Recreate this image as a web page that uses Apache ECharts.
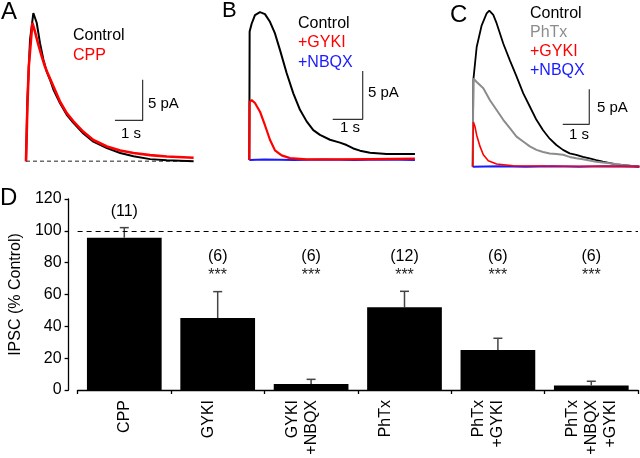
<!DOCTYPE html>
<html>
<head>
<meta charset="utf-8">
<script src="https://cdn.jsdelivr.net/npm/echarts@6/dist/echarts.min.js"></script>
<style>
html, body { margin: 0; padding: 0; background: #fff; }
#main { width: 640px; height: 458px; }
</style>
</head>
<body>
<div id="main"></div>
<script>
// traces, [time (s), current (pA)]
var traceA_control = [[0,0],[0.05,7.5],[0.145,14.9],[0.265,18.2],[0.386,17.0],[0.506,14.5],[0.627,12.5],[0.747,11.0],[0.867,10.0],[0.988,8.8],[1.229,7.1],[1.47,5.7],[1.71,4.7],[2.07,3.4],[2.43,2.4],[2.92,1.6],[3.40,1.0],[3.88,0.6],[4.48,0.25],[5.08,0.1],[6.05,0.0]];
var traceA_cpp = [[0,0],[0.05,6.7],[0.1,11.6],[0.23,17.0],[0.325,15.9],[0.446,14.3],[0.566,12.9],[0.687,11.6],[0.807,10.6],[0.988,9.2],[1.229,7.3],[1.47,5.9],[1.71,4.9],[2.07,3.6],[2.43,2.6],[2.92,1.8],[3.40,1.3],[3.88,1.0],[4.48,0.74],[5.08,0.57],[6.05,0.41]];

var traceB_control = [[0,0],[0.011,13.3],[0.078,14.1],[0.189,15.0],[0.356,15.3],[0.522,15.1],[0.689,14.3],[0.856,13.1],[1.022,11.4],[1.244,9.0],[1.467,6.9],[1.689,5.2],[1.911,4.0],[2.133,3.1],[2.356,2.6],[2.689,2.1],[3.022,1.8],[3.244,1.55],[3.467,1.2],[3.689,0.97],[4.022,0.76],[4.578,0.62],[5.522,0.62]];
var traceB_gyki = [[0,0],[0.011,6.0],[0.078,6.2],[0.189,5.9],[0.356,5.0],[0.522,3.6],[0.689,2.1],[0.856,1.0],[1.078,0.48],[1.356,0.2],[1.911,0.07],[2.91,0.07],[4.02,0.1],[5.52,0.14]];
var traceB_nbqx = [[0,0],[0.5,0.05],[1.5,0.0],[2.5,0.05],[3.5,0.0],[4.5,0.05],[5.52,0.0]];

var traceC_control = [[0,0],[0.025,12.4],[0.15,17.1],[0.338,20.2],[0.525,21.9],[0.625,22.3],[0.775,21.7],[0.9,20.5],[1.15,17.6],[1.4,15.2],[1.65,12.9],[1.9,10.5],[2.15,8.6],[2.4,6.7],[2.65,5.2],[2.9,4.0],[3.15,3.1],[3.4,2.4],[3.65,1.9],[3.9,1.7],[4.15,1.4],[4.4,1.2],[4.65,0.95],[4.9,0.71],[5.4,0.33],[6.275,0]];
var traceC_phtx = [[0,0],[0.025,12.6],[0.15,12.1],[0.4,11.2],[0.65,9.5],[0.9,8.1],[1.15,6.7],[1.4,5.5],[1.65,4.3],[1.9,3.6],[2.15,2.9],[2.4,2.4],[2.65,2.1],[2.9,1.9],[3.15,1.8],[3.4,1.7],[3.65,1.4],[3.9,1.2],[4.15,1.05],[4.65,0.7],[5.15,0.48],[5.65,0.24],[6.275,0]];
var traceC_gyki = [[0,0],[0.025,6.4],[0.088,5.7],[0.15,4.5],[0.275,2.9],[0.4,1.7],[0.588,0.86],[0.9,0.38],[1.525,0.14],[2.775,0.1],[6.275,0.05]];
var traceC_nbqx = [[0,0],[1,0.05],[2,0.0],[3,0.05],[4,0.0],[5,0.05],[6.275,0.0]];

// scale bar corners [time, pA]: 1 s horizontal, 5 pA vertical
var scaleA = [4.21, 5];
var scaleB = [3.78, 4.21];
var scaleC = [4.39, 6.06];

// panel D
var categories = ['CPP', 'GYKI', 'GYKI\n+NBQX', 'PhTx', 'PhTx\n+GYKI', 'PhTx\n+NBQX\n+GYKI'];
var ipscMean = [95.7, 45.2, 3.8, 52, 25.1, 2.9];
var ipscSem = [6.3, 16.6, 2.9, 10, 7.4, 2.6];
var nCells = [11, 6, 6, 12, 6, 6];
var signif = ['', '***', '***', '***', '***', '***'];
// the printed labels sit a little left of their ticks (in half-lines)
var labelPad = [0, 1, 1, 2, 1, 0];

var FONT = '"Liberation Sans", Arial, sans-serif';

var chart = echarts.init(document.getElementById('main'));

function scaleBar(c, xi) {
    return {
        type: 'line', xAxisIndex: xi, yAxisIndex: xi,
        data: [[c[0] - 1, c[1]], [c[0], c[1]], [c[0], c[1] + 5]],
        symbol: 'none', silent: true, animation: false,
        lineStyle: {color: '#333', width: 1.2}
    };
}

function trace(d, xi, color, w) {
    return {
        type: 'line', xAxisIndex: xi, yAxisIndex: xi, data: d,
        symbol: 'none', silent: true, animation: false,
        lineStyle: {color: color, width: w}
    };
}

function txt(x, y, s, color, size) {
    return {
        type: 'text', x: x, y: y, silent: true,
        style: {text: s, fill: color, font: size + 'px ' + FONT, verticalAlign: 'middle'}
    };
}

var hiddenX = function (i, max) {
    return {gridIndex: i, type: 'value', min: 0, max: max, show: false};
};
var hiddenY = function (i, min, max) {
    return {gridIndex: i, type: 'value', min: min, max: max, show: false};
};

var errData = ipscMean.map(function (m, i) { return [i, m, m + ipscSem[i]]; });
var nData = ipscMean.map(function (m, i) {
    return {value: [i, m + ipscSem[i] > 90 ? 112 : 83.6], label: {formatter: '(' + nCells[i] + ')'}};
});
var starData = signif.map(function (s, i) {
    return s ? {value: [i, 71.6], label: {formatter: s}} : null;
}).filter(function (d) { return d; });

var option = {
    backgroundColor: '#fff',
    animation: false,
    textStyle: {fontFamily: FONT},
    grid: [
        {left: 26, top: 6.5, width: 169, height: 162.8},
        {left: 249.3, top: 5.4, width: 168, height: 164.3},
        {left: 472.7, top: 5.7, width: 168, height: 168},
        {left: 77, right: 2, top: 199, bottom: 68}
    ],
    xAxis: [
        hiddenX(0, 6.1),
        hiddenX(1, 5.6),
        hiddenX(2, 6.3),
        {
            gridIndex: 3, type: 'category', data: categories,
            axisLine: {lineStyle: {color: '#000', width: 1.3}},
            axisTick: {show: true, length: 4, lineStyle: {color: '#000', width: 1.3}},
            axisLabel: {
                rotate: 90, fontSize: 16, lineHeight: 19, color: '#000', margin: 10, fontFamily: FONT,
                formatter: function (v, i) {
                    var s = v;
                    for (var k = 0; k < labelPad[i]; k++) s += '\n ';
                    return s;
                }
            }
        }
    ],
    yAxis: [
        hiddenY(0, -1, 19),
        hiddenY(1, -1, 16),
        hiddenY(2, -1, 23),
        {
            gridIndex: 3, type: 'value', min: 0, max: 120, interval: 20, offset: 9,
            name: 'IPSC (% Control)', nameLocation: 'middle', nameGap: 38,
            nameTextStyle: {fontSize: 16, color: '#000', fontFamily: FONT},
            axisLine: {show: true, lineStyle: {color: '#000', width: 1.3}},
            axisTick: {show: true, length: 4, lineStyle: {color: '#000', width: 1.3}},
            axisLabel: {fontSize: 16, color: '#000', margin: 7, fontFamily: FONT},
            splitLine: {show: false}
        }
    ],
    series: [
        // A
        {
            type: 'line', xAxisIndex: 0, yAxisIndex: 0, data: [[0, 0], [6.05, 0]],
            symbol: 'none', silent: true, lineStyle: {color: '#222', width: 1, type: [4, 3]}
        },
        trace(traceA_control, 0, '#000', 2),
        trace(traceA_cpp, 0, '#ff0000', 2.6),
        scaleBar(scaleA, 0),
        // B
        trace(traceB_control, 1, '#000', 2),
        trace(traceB_nbqx, 1, '#1a1aff', 2),
        trace(traceB_gyki, 1, '#ff0000', 2.2),
        scaleBar(scaleB, 1),
        // C
        trace(traceC_control, 2, '#000', 1.8),
        trace(traceC_phtx, 2, '#8c8c8c', 2),
        trace(traceC_nbqx, 2, '#1a1aff', 2),
        trace(traceC_gyki, 2, '#ff0000', 1.6),
        scaleBar(scaleC, 2),
        // D
        {
            type: 'bar', xAxisIndex: 3, yAxisIndex: 3, data: ipscMean,
            barWidth: '80%', itemStyle: {color: '#000'}, silent: true,
            markLine: {
                silent: true, symbol: 'none', label: {show: false},
                lineStyle: {color: '#000', width: 1.2, type: [5, 4]},
                data: [{yAxis: 100}]
            }
        },
        {
            type: 'custom', xAxisIndex: 3, yAxisIndex: 3, data: errData, silent: true,
            renderItem: function (params, api) {
                var p0 = api.coord([api.value(0), api.value(1)]);
                var p1 = api.coord([api.value(0), api.value(2)]);
                var st = {stroke: '#444', lineWidth: 1.5};
                return {
                    type: 'group',
                    children: [
                        {type: 'line', shape: {x1: p0[0], y1: p0[1], x2: p1[0], y2: p1[1]}, style: st},
                        {type: 'line', shape: {x1: p1[0] - 4.5, y1: p1[1], x2: p1[0] + 4.5, y2: p1[1]}, style: st}
                    ]
                };
            }
        },
        {
            type: 'scatter', xAxisIndex: 3, yAxisIndex: 3, data: nData, symbolSize: 1, silent: true,
            itemStyle: {opacity: 0},
            label: {show: true, position: 'inside', fontSize: 16, color: '#000', opacity: 1, fontFamily: FONT}
        },
        {
            type: 'scatter', xAxisIndex: 3, yAxisIndex: 3, data: starData, symbolSize: 1, silent: true,
            itemStyle: {opacity: 0},
            label: {show: true, position: 'inside', fontSize: 16, color: '#222', opacity: 1, fontFamily: FONT}
        }
    ],
    graphic: [
        txt(1, 12, 'A', '#000', 24),
        txt(222, 11, 'B', '#000', 22),
        txt(450, 15, 'C', '#000', 24),
        txt(0, 198, 'D', '#000', 24),
        txt(73, 36, 'Control', '#000', 16),
        txt(73, 56, 'CPP', '#ff0000', 16),
        txt(148, 104, '5 pA', '#000', 15),
        txt(121, 134, '1 s', '#000', 15),
        txt(298, 24, 'Control', '#000', 16),
        txt(298, 43, '+GYKI', '#ff0000', 16),
        txt(298, 62.5, '+NBQX', '#1a1aff', 16),
        txt(368, 93, '5 pA', '#000', 15),
        txt(340, 128, '1 s', '#000', 15),
        txt(530, 14, 'Control', '#000', 16),
        txt(530, 33, 'PhTx', '#8c8c8c', 16),
        txt(530, 52, '+GYKI', '#ff0000', 16),
        txt(530, 71, '+NBQX', '#1a1aff', 16),
        txt(597, 108, '5 pA', '#000', 15),
        txt(569, 135, '1 s', '#000', 15)
    ]
};

chart.setOption(option);
</script>
</body>
</html>
